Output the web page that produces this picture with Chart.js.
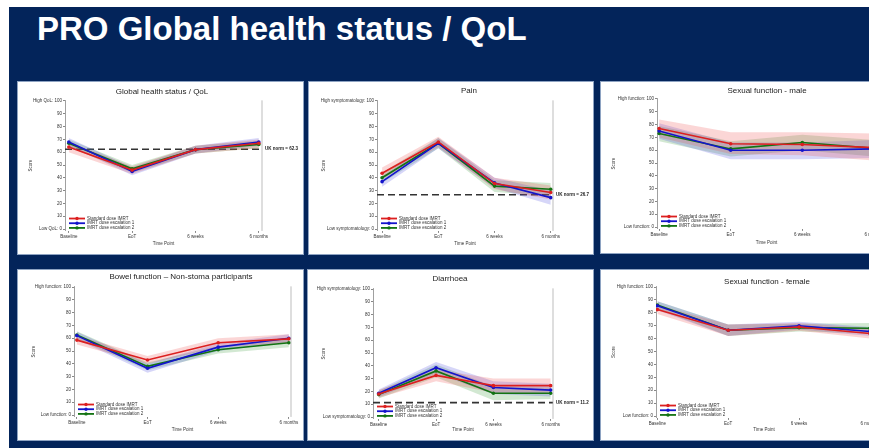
<!DOCTYPE html>
<html lang="en">
<head>
    <meta charset="UTF-8">
    <title>PRO Global health status / QoL</title>
    <script src="https://cdn.jsdelivr.net/npm/chart.js"></script>
    <style>
        html, body { margin: 0; padding: 0; background: #ffffff; }
        body { width: 869px; height: 448px; overflow: hidden; position: relative; font-family: "Liberation Sans", Arial, sans-serif; }
        #slide { position: absolute; left: 9px; top: 7px; width: 860px; height: 441px; background: #03245a; }
        h1 { position: absolute; left: 37px; top: 10px; margin: 0; color: #ffffff; font-size: 33px; font-weight: bold; font-family: "Liberation Sans", Arial, sans-serif; }
        .panel { position: absolute; background: #ffffff; outline: 1px solid #8ea3c2; }
        .panel canvas { display: block; }
    </style>
</head>
<body>
    <div id="slide"></div>
    <h1>PRO Global health status / QoL</h1>

    <div class="panel" style="left:18px;top:82px;width:285px;height:172px"><canvas id="c1" width="285" height="172"></canvas></div>
    <div class="panel" style="left:309px;top:82px;width:284px;height:172px"><canvas id="c2" width="284" height="172"></canvas></div>
    <div class="panel" style="left:601px;top:82px;width:285px;height:171px"><canvas id="c3" width="285" height="171"></canvas></div>
    <div class="panel" style="left:18px;top:270px;width:285px;height:170px"><canvas id="c4" width="285" height="170"></canvas></div>
    <div class="panel" style="left:308px;top:270px;width:285px;height:170px"><canvas id="c5" width="285" height="170"></canvas></div>
    <div class="panel" style="left:601px;top:270px;width:285px;height:170px"><canvas id="c6" width="285" height="170"></canvas></div>

    <script>
        // categories and labels
        const timePoints = ['Baseline', 'EoT', '6 weeks', '6 months'];
        const seriesNames = ['Standard dose IMRT', 'IMRT dose escalation 1', 'IMRT dose escalation 2'];
        const yTickValues = [0, 10, 20, 30, 40, 50, 60, 70, 80, 90, 100];

        // Global health status / QoL
        const qolStd = [64, 46, 62, 67];
        const qolStdLo = [60, 43, 59, 63];
        const qolStdHi = [68, 49, 65, 70];
        const qolEsc1 = [68, 45, 62, 68];
        const qolEsc1Lo = [65, 42, 59, 65];
        const qolEsc1Hi = [71, 48, 65, 71];
        const qolEsc2 = [67, 47, 62, 66];
        const qolEsc2Lo = [64, 44, 59, 63];
        const qolEsc2Hi = [70, 50, 65, 69];

        // Pain
        const painStd = [43.5, 68, 35.5, 28.5];
        const painStdLo = [39, 64, 31, 23];
        const painStdHi = [48, 72, 40, 34];
        const painEsc1 = [37, 67, 36, 24.5];
        const painEsc1Lo = [33, 63, 32, 19];
        const painEsc1Hi = [41, 71, 40, 30];
        const painEsc2 = [40, 67, 33.5, 31];
        const painEsc2Lo = [36, 63, 29, 26];
        const painEsc2Hi = [44, 71, 38, 36];

        // Sexual function - male
        const sexMStd = [77, 65, 64.5, 62];
        const sexMStdLo = [70, 57, 56, 52];
        const sexMStdHi = [84, 74, 74, 73];
        const sexMEsc1 = [75, 60, 60, 61];
        const sexMEsc1Lo = [69, 53, 53, 54];
        const sexMEsc1Hi = [81, 66, 66, 68];
        const sexMEsc2 = [73, 61, 66, 61.5];
        const sexMEsc2Lo = [67, 55, 60, 55];
        const sexMEsc2Hi = [79, 67, 72, 68];

        // Bowel function - non-stoma participants
        const bowelStd = [58.5, 43, 56.5, 59.5];
        const bowelStdLo = [55, 40, 53, 56];
        const bowelStdHi = [62, 46, 60, 63];
        const bowelEsc1 = [62, 36.5, 53, 60];
        const bowelEsc1Lo = [59, 33, 50, 57];
        const bowelEsc1Hi = [65, 40, 56, 63];
        const bowelEsc2 = [62.5, 38, 51, 56.5];
        const bowelEsc2Lo = [59.5, 35, 48, 53];
        const bowelEsc2Hi = [65.5, 41, 54, 60];

        // Diarrhoea
        const diarStd = [18, 32.5, 24.5, 24.5];
        const diarStdLo = [15, 28, 19, 19];
        const diarStdHi = [21, 37, 30, 30];
        const diarEsc1 = [18.5, 38.5, 23, 21];
        const diarEsc1Lo = [15.5, 34, 18, 16];
        const diarEsc1Hi = [21.5, 43, 28, 26];
        const diarEsc2 = [17.5, 36, 18.5, 18.5];
        const diarEsc2Lo = [14.5, 31, 13, 14];
        const diarEsc2Hi = [20.5, 41, 24, 23];

        // Sexual function - female
        const sexFStd = [82.5, 66.5, 69, 64];
        const sexFStdLo = [79, 62, 66, 60];
        const sexFStdHi = [86, 71, 72, 68];
        const sexFEsc1 = [85.5, 66.5, 70, 65.5];
        const sexFEsc1Lo = [82, 62, 67, 62];
        const sexFEsc1Hi = [89, 71, 73, 69];
        const sexFEsc2 = [86, 66.5, 68.5, 68];
        const sexFEsc2Lo = [83, 62, 65.5, 64];
        const sexFEsc2Hi = [89, 71, 71.5, 72];

        const lineColors = ['#dc1f1f', '#1414cc', '#137313'];
        const bandColors = ['rgba(235, 70, 70, 0.22)', 'rgba(70, 70, 225, 0.22)', 'rgba(50, 150, 50, 0.22)'];
        const FONT = '"Liberation Sans", Arial, sans-serif';

        // titles, norm lines, legend inside the plot
        const panelExtras = {
            id: 'panelExtras',
            beforeDatasetsDraw(chart, args, o) {
                if (o.norm == null) return;
                const { ctx, chartArea: a } = chart;
                const yy = chart.scales.y.getPixelForValue(o.norm);
                ctx.save();
                ctx.setLineDash([7, 4]);
                ctx.strokeStyle = '#333';
                ctx.lineWidth = 1.6;
                ctx.beginPath();
                ctx.moveTo(a.left, yy);
                ctx.lineTo(a.right, yy);
                ctx.stroke();
                ctx.restore();
            },
            afterDraw(chart, args, o) {
                const { ctx, chartArea: a } = chart;
                ctx.save();
                ctx.strokeStyle = '#a0a0a0';
                ctx.lineWidth = 0.7;
                ctx.beginPath();
                ctx.moveTo(a.right, a.top);
                ctx.lineTo(a.right, a.bottom);
                ctx.stroke();

                ctx.fillStyle = '#222';
                ctx.font = '8px ' + FONT;
                ctx.textAlign = 'center';
                ctx.textBaseline = 'middle';
                ctx.fillText(o.title, o.titleX, o.titleY);

                if (o.norm != null) {
                    ctx.font = 'bold 4.5px ' + FONT;
                    ctx.textAlign = 'left';
                    ctx.fillText('UK norm = ' + o.norm, a.right + 3, chart.scales.y.getPixelForValue(o.norm));
                }

                ctx.font = '4.5px ' + FONT;
                ctx.textAlign = 'left';
                seriesNames.forEach((name, i) => {
                    const ry = a.bottom - 3 - (2 - i) * 4.7;
                    const x0 = a.left + 4;
                    ctx.strokeStyle = lineColors[i];
                    ctx.lineWidth = 1.8;
                    ctx.beginPath();
                    ctx.moveTo(x0, ry);
                    ctx.lineTo(x0 + 16, ry);
                    ctx.stroke();
                    ctx.fillStyle = lineColors[i];
                    ctx.beginPath();
                    ctx.arc(x0 + 8, ry, 1.7, 0, Math.PI * 2);
                    ctx.fill();
                    ctx.fillStyle = '#333';
                    ctx.fillText(name, x0 + 18, ry);
                });
                ctx.restore();
            }
        };

        function toPoints(arr) {
            return arr.map((v, i) => ({ x: i, y: v }));
        }

        function makeChart(id, g, title, series, hiLabel, loLabel, norm) {
            const px = (g.plotB - g.plotT) / 100;
            const chartTop = g.plotT - 0.5 * px - g.top;
            const chartBottom = g.plotB + 1.5 * px - g.top;
            const xh = g.h - chartBottom;
            const yw = g.axisL - g.left;

            const datasets = [];
            series.forEach((s, i) => {
                datasets.push({
                    data: toPoints(s[0]),
                    borderColor: lineColors[i],
                    backgroundColor: lineColors[i],
                    borderWidth: 1.6,
                    pointRadius: 1.8,
                    pointBorderWidth: 0,
                    fill: false,
                    order: 0
                });
            });
            series.forEach((s, i) => {
                datasets.push({
                    data: toPoints(s[1]),
                    borderWidth: 0,
                    pointRadius: 0,
                    fill: false,
                    order: 1
                });
                datasets.push({
                    data: toPoints(s[2]),
                    borderWidth: 0,
                    pointRadius: 0,
                    backgroundColor: bandColors[i],
                    fill: '-1',
                    order: 1
                });
            });

            new Chart(document.getElementById(id), {
                type: 'line',
                data: { datasets: datasets },
                plugins: [panelExtras],
                options: {
                    responsive: false,
                    animation: false,
                    devicePixelRatio: 1,
                    layout: { padding: { top: chartTop, right: g.w - (g.plotR - g.left), bottom: 0, left: 0 } },
                    plugins: {
                        legend: { display: false },
                        tooltip: { enabled: false },
                        panelExtras: { title: title, titleX: g.titleX - g.left, titleY: g.titleY - g.top, norm: norm }
                    },
                    scales: {
                        x: {
                            type: 'linear',
                            min: g.xMin,
                            max: g.xMax,
                            afterBuildTicks: ax => { ax.ticks = timePoints.map((t, i) => ({ value: i })); },
                            afterFit: ax => { ax.height = xh; },
                            ticks: {
                                callback: v => timePoints[v],
                                font: { size: 4.5, family: FONT },
                                color: '#333',
                                padding: 1.5,
                                maxRotation: 0,
                                autoSkip: false
                            },
                            grid: { drawOnChartArea: false, drawTicks: true, tickLength: 2, color: '#888' },
                            border: { display: false },
                            title: {
                                display: true,
                                text: 'Time Point',
                                font: { size: 4.5, family: FONT },
                                color: '#333',
                                padding: { top: 0, bottom: 7.5 }
                            }
                        },
                        y: {
                            min: -1.5,
                            max: 100.5,
                            afterBuildTicks: ax => { ax.ticks = yTickValues.map(v => ({ value: v })); },
                            afterFit: ax => { ax.width = yw; },
                            ticks: {
                                callback: v => v === 100 ? hiLabel : (v === 0 ? loLabel : v),
                                font: { size: 4.5, family: FONT },
                                color: '#333',
                                padding: 1
                            },
                            grid: { drawOnChartArea: false, drawTicks: true, tickLength: 2, color: '#888' },
                            border: { display: true, color: '#888', width: 0.8 },
                            title: {
                                display: true,
                                text: 'Score',
                                font: { size: 4.5, family: FONT },
                                color: '#333',
                                padding: { top: g.scoreX - 2.7, bottom: 0 }
                            }
                        }
                    }
                }
            });
        }

        makeChart('c1',
            { left: 18, top: 82, w: 285, h: 172, axisL: 65, plotT: 101, plotB: 229, plotR: 262, xMin: -0.06, xMax: 3.05, titleX: 162, titleY: 92, scoreX: 13 },
            'Global health status / QoL',
            [[qolStd, qolStdLo, qolStdHi], [qolEsc1, qolEsc1Lo, qolEsc1Hi], [qolEsc2, qolEsc2Lo, qolEsc2Hi]],
            'High QoL: 100', 'Low QoL: 0', 62.3);

        makeChart('c2',
            { left: 309, top: 82, w: 284, h: 172, axisL: 377, plotT: 101, plotB: 229, plotR: 553, xMin: -0.09, xMax: 3.04, titleX: 469, titleY: 91, scoreX: 15 },
            'Pain',
            [[painStd, painStdLo, painStdHi], [painEsc1, painEsc1Lo, painEsc1Hi], [painEsc2, painEsc2Lo, painEsc2Hi]],
            'High symptomatology: 100', 'Low symptomatology: 0', 26.7);

        makeChart('c3',
            { left: 601, top: 82, w: 285, h: 171, axisL: 657, plotT: 99, plotB: 227, plotR: 876, xMin: -0.03, xMax: 3.03, titleX: 767, titleY: 91, scoreX: 13 },
            'Sexual function - male',
            [[sexMStd, sexMStdLo, sexMStdHi], [sexMEsc1, sexMEsc1Lo, sexMEsc1Hi], [sexMEsc2, sexMEsc2Lo, sexMEsc2Hi]],
            'High function: 100', 'Low function: 0', null);

        makeChart('c4',
            { left: 18, top: 270, w: 285, h: 170, axisL: 74, plotT: 287, plotB: 415, plotR: 291, xMin: -0.04, xMax: 3.03, titleX: 181, titleY: 277, scoreX: 16 },
            'Bowel function \u2013 Non-stoma participants',
            [[bowelStd, bowelStdLo, bowelStdHi], [bowelEsc1, bowelEsc1Lo, bowelEsc1Hi], [bowelEsc2, bowelEsc2Lo, bowelEsc2Hi]],
            'High function: 100', 'Low function: 0', null);

        makeChart('c5',
            { left: 308, top: 270, w: 285, h: 170, axisL: 373, plotT: 289, plotB: 417, plotR: 553, xMin: -0.1, xMax: 3.04, titleX: 450, titleY: 279, scoreX: 16 },
            'Diarrhoea',
            [[diarStd, diarStdLo, diarStdHi], [diarEsc1, diarEsc1Lo, diarEsc1Hi], [diarEsc2, diarEsc2Lo, diarEsc2Hi]],
            'High symptomatology: 100', 'Low symptomatology: 0', 11.2);

        makeChart('c6',
            { left: 601, top: 270, w: 285, h: 170, axisL: 656, plotT: 287, plotB: 416, plotR: 872, xMin: -0.02, xMax: 3.03, titleX: 767, titleY: 282, scoreX: 13 },
            'Sexual function - female',
            [[sexFStd, sexFStdLo, sexFStdHi], [sexFEsc1, sexFEsc1Lo, sexFEsc1Hi], [sexFEsc2, sexFEsc2Lo, sexFEsc2Hi]],
            'High function: 100', 'Low function: 0', null);
    </script>
</body>
</html>
